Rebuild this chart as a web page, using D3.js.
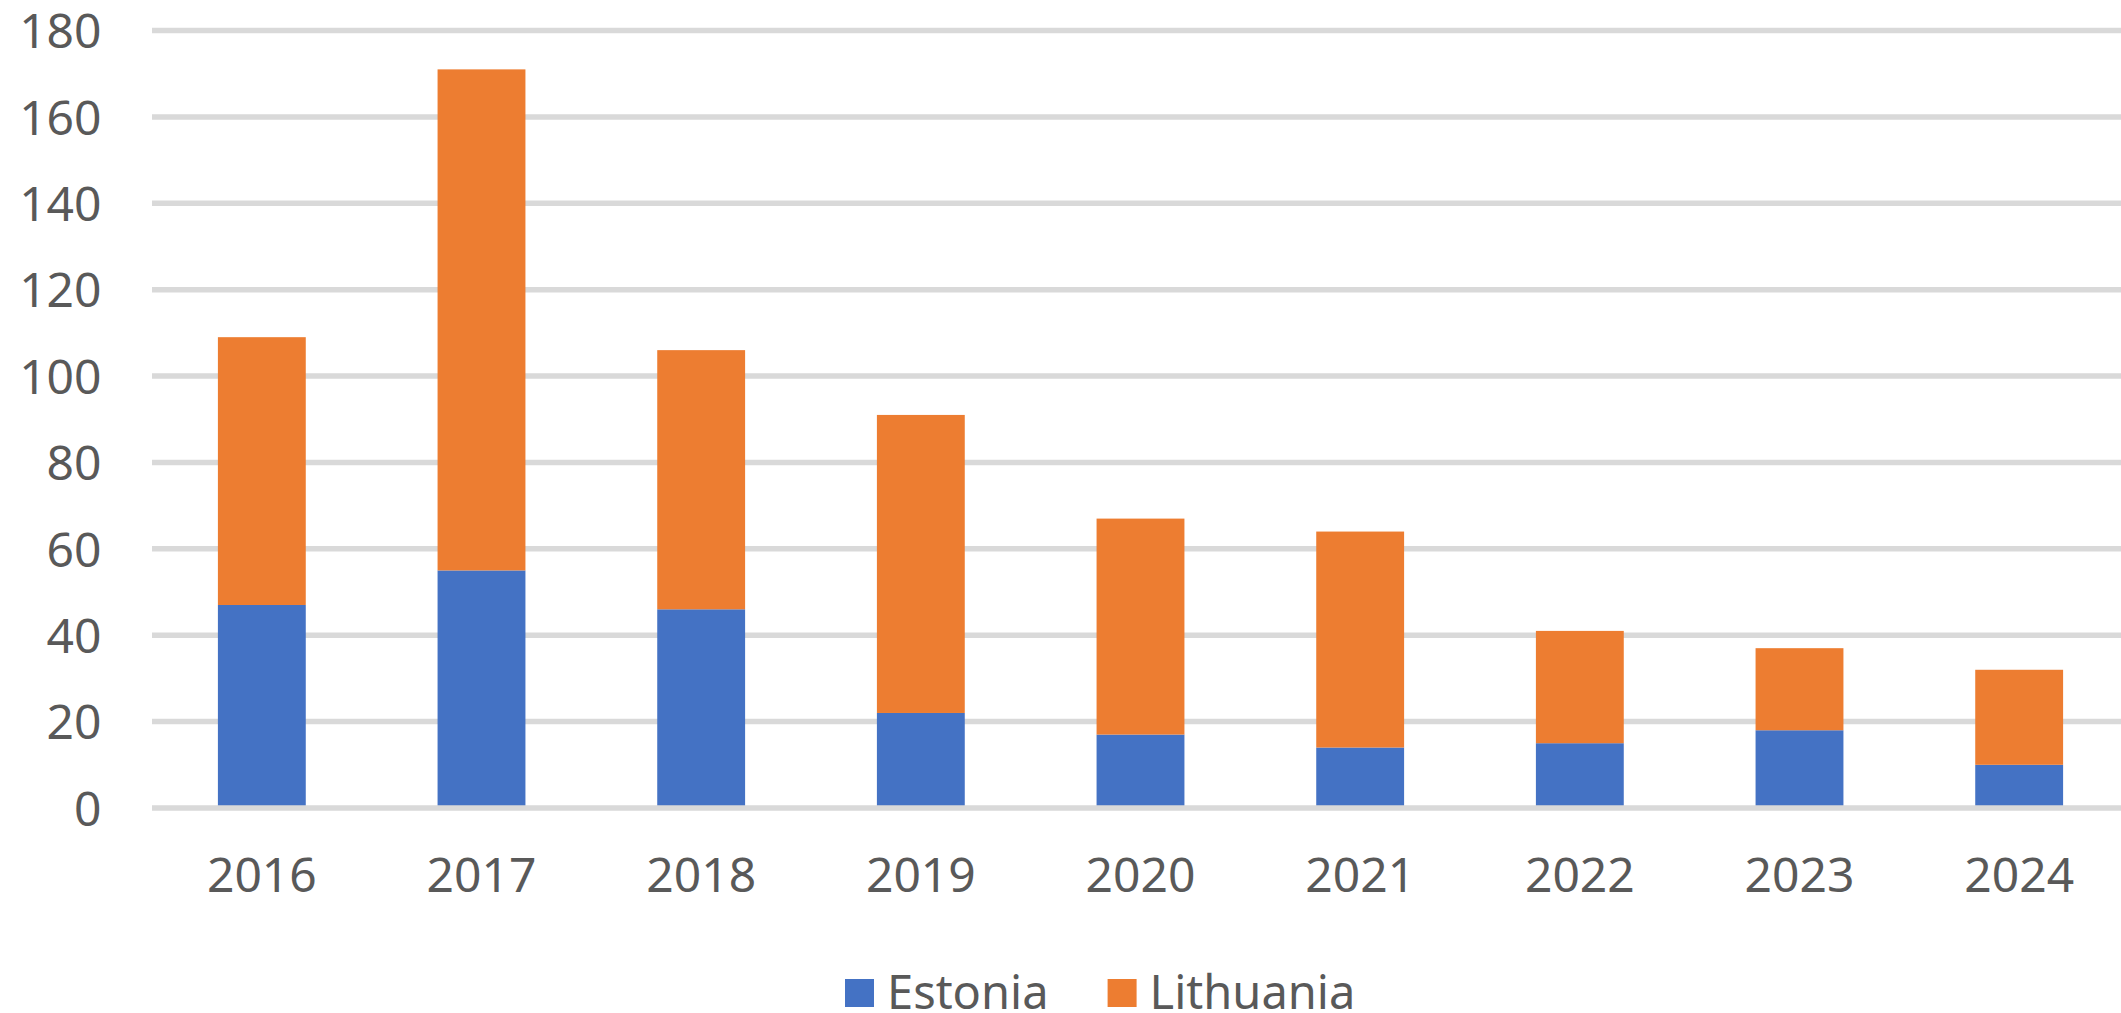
<!DOCTYPE html>
<html>
<head>
<meta charset="utf-8">
<script src="https://cdn.jsdelivr.net/npm/d3@7"></script>
<style>
  html, body { margin: 0; padding: 0; background: #ffffff; }
  svg { display: block; }
  text { font-family: "Noto Sans", "Open Sans", sans-serif; fill: #595959; }
</style>
</head>
<body>
<svg id="chart" width="2121" height="1013"></svg>
<script>
// ---- data ----
const years = ["2016", "2017", "2018", "2019", "2020", "2021", "2022", "2023", "2024"];
const estonia = [47, 55, 46, 22, 17, 14, 15, 18, 10];
const lithuania = [62, 116, 60, 69, 50, 50, 26, 19, 22];
const seriesNames = ["Estonia", "Lithuania"];
const yTicks = [0, 20, 40, 60, 80, 100, 120, 140, 160, 180];

// ---- layout ----
const W = 2121, H = 1013;
const plotLeft = 152, plotRight = 2129, gridRight = 2121, plotTop = 30.5, plotBottom = 808;
const colors = { Estonia: "#4472C4", Lithuania: "#ED7D31" };

const svg = d3.select("#chart");

const rows = years.map((y, i) => ({ year: y, Estonia: estonia[i], Lithuania: lithuania[i] }));
const stacked = d3.stack().keys(seriesNames)(rows);

const x = d3.scaleBand().domain(years).range([plotLeft, plotRight])
  .paddingInner(0.6).paddingOuter(0.3);
const y = d3.scaleLinear().domain([0, 180]).range([plotBottom, plotTop]);

// gridlines (except zero, drawn after bars)
const yAxis = d3.axisLeft(y).tickValues(yTicks).tickSize(0).tickPadding(0);
const grid = svg.append("g");
grid.selectAll("line").data(yTicks.filter(d => d !== 0)).join("line")
  .attr("x1", plotLeft).attr("x2", gridRight)
  .attr("y1", d => y(d)).attr("y2", d => y(d))
  .attr("stroke", "#D9D9D9").attr("stroke-width", 5.5);

// bars
svg.append("g").selectAll("g").data(stacked).join("g")
  .attr("fill", d => colors[d.key])
  .selectAll("rect").data(d => d).join("rect")
  .attr("x", d => x(d.data.year))
  .attr("width", x.bandwidth())
  .attr("y", d => y(d[1]))
  .attr("height", d => y(d[0]) - y(d[1]));

// zero line
svg.append("line")
  .attr("x1", plotLeft).attr("x2", gridRight)
  .attr("y1", y(0)).attr("y2", y(0))
  .attr("stroke", "#D9D9D9").attr("stroke-width", 5.5);

// y axis labels
const gy = svg.append("g").attr("transform", `translate(101.5,0)`).call(yAxis);
gy.select(".domain").remove();
gy.selectAll("text")
  .attr("font-size", 48).attr("fill", "#595959")
  .attr("font-family", '"Noto Sans", "Open Sans", sans-serif')
  .attr("x", 0).attr("dy", "0.36em").attr("text-anchor", "end");

// x axis labels
const xAxis = d3.axisBottom(x).tickSize(0).tickPadding(0);
const gx = svg.append("g").attr("transform", `translate(0,892)`).call(xAxis);
gx.select(".domain").remove();
gx.selectAll("text")
  .attr("font-size", 48).attr("fill", "#595959")
  .attr("font-family", '"Noto Sans", "Open Sans", sans-serif')
  .attr("y", 0).attr("dy", 0);

// legend
const legend = svg.append("g");
let lx = 845;
seriesNames.forEach((name) => {
  legend.append("rect")
    .attr("x", lx).attr("y", 979).attr("width", 29).attr("height", 28)
    .attr("fill", colors[name]);
  const t = legend.append("text")
    .attr("x", lx + 29 + 13).attr("y", 1009)
    .attr("font-size", 47)
    .text(name);
  const w = t.node().getComputedTextLength();
  lx = lx + 29 + 13 + w + 59;
});
</script>
</body>
</html>
